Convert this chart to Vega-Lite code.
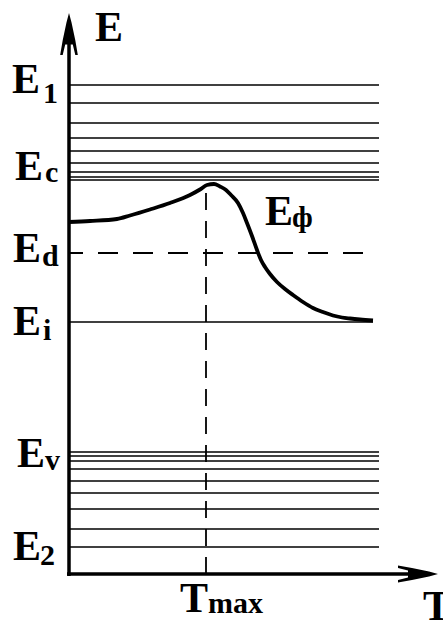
{
  "$schema": "https://vega.github.io/schema/vega-lite/v6.json",
  "width": 443,
  "height": 621,
  "autosize": {"type": "none"},
  "padding": 0,
  "background": "white",
  "config": {"view": {"stroke": null}},
  "datasets": {
    "levels": [
      {"t": 1, "t2": 310, "e": 489},
      {"t": 1, "t2": 310, "e": 471},
      {"t": 1, "t2": 310, "e": 451},
      {"t": 1, "t2": 310, "e": 436},
      {"t": 1, "t2": 310, "e": 423},
      {"t": 1, "t2": 310, "e": 411},
      {"t": 1, "t2": 310, "e": 402},
      {"t": 1, "t2": 310, "e": 397},
      {"t": 1, "t2": 310, "e": 394},
      {"t": 1, "t2": 304, "e": 252},
      {"t": 1, "t2": 310, "e": 122},
      {"t": 1, "t2": 310, "e": 118},
      {"t": 1, "t2": 310, "e": 113},
      {"t": 1, "t2": 310, "e": 105},
      {"t": 1, "t2": 310, "e": 93},
      {"t": 1, "t2": 310, "e": 81},
      {"t": 1, "t2": 310, "e": 65},
      {"t": 1, "t2": 310, "e": 45},
      {"t": 1, "t2": 310, "e": 27}
    ],
    "axes": [
      {"t": 0, "t2": 0, "e": -2, "e2": 544},
      {"t": -2, "t2": 341, "e": 0, "e2": 0}
    ],
    "vdash": [{"t": 137, "t2": 137, "e": 0, "e2": 391}],
    "hdash": [{"t": 1, "t2": 303, "e": 321, "e2": 321}],
    "yarrow": [{"t": 0, "e": 540}],
    "xarrow": [{"t": 349, "e": 0}],
    "curve": [
      {"t": 0, "e": 352},
      {"t": 21, "e": 353},
      {"t": 48, "e": 355},
      {"t": 61, "e": 358.5},
      {"t": 81, "e": 364.5},
      {"t": 101, "e": 371},
      {"t": 121, "e": 379},
      {"t": 131, "e": 384.5},
      {"t": 138, "e": 389},
      {"t": 145, "e": 390},
      {"t": 151, "e": 387.5},
      {"t": 157, "e": 384},
      {"t": 162, "e": 379},
      {"t": 169, "e": 371},
      {"t": 174, "e": 361},
      {"t": 178, "e": 351},
      {"t": 183, "e": 338},
      {"t": 188, "e": 324},
      {"t": 192, "e": 314},
      {"t": 196, "e": 307},
      {"t": 201, "e": 300},
      {"t": 208, "e": 292},
      {"t": 216, "e": 285},
      {"t": 224, "e": 279},
      {"t": 234, "e": 272},
      {"t": 244, "e": 266},
      {"t": 254, "e": 262},
      {"t": 264, "e": 258.5},
      {"t": 273, "e": 256.5},
      {"t": 281, "e": 255.5},
      {"t": 291, "e": 254.5},
      {"t": 304, "e": 253.5}
    ],
    "labels": [
      {"t": 26, "e": 533, "label": "E"},
      {"t": -57, "e": 481, "label": "E"},
      {"t": -54, "e": 394, "label": "E"},
      {"t": -56, "e": 312, "label": "E"},
      {"t": -56, "e": 239, "label": "E"},
      {"t": -52, "e": 107, "label": "E"},
      {"t": -56, "e": 14, "label": "E"},
      {"t": 196, "e": 349, "label": "E"},
      {"t": 111, "e": -38, "label": "T"},
      {"t": 354, "e": -46, "label": "T"}
    ],
    "subs": [
      {"t": -26, "e": 471, "label": "1"},
      {"t": -24, "e": 392, "label": "c"},
      {"t": -27, "e": 308, "label": "d"},
      {"t": -26, "e": 234, "label": "i"},
      {"t": -24, "e": 104, "label": "v"},
      {"t": -29, "e": 9, "label": "2"},
      {"t": 223, "e": 347, "label": "ф"},
      {"t": 139, "e": -39, "label": "max"}
    ]
  },
  "layer": [
    {
      "data": {"name": "levels"},
      "mark": {"type": "rule", "color": "black", "strokeWidth": 1.6},
      "encoding": {
        "x": {"field": "t", "type": "quantitative", "scale": {"domain": [-69, 374], "nice": false, "zero": false}, "axis": null},
        "x2": {"field": "t2"},
        "y": {"field": "e", "type": "quantitative", "scale": {"domain": [-47, 574], "nice": false, "zero": false}, "axis": null}
      }
    },
    {
      "data": {"name": "hdash"},
      "mark": {"type": "rule", "color": "black", "strokeWidth": 1.8, "strokeDash": [20, 15], "strokeDashOffset": 7},
      "encoding": {
        "x": {"field": "t", "type": "quantitative"},
        "x2": {"field": "t2"},
        "y": {"field": "e", "type": "quantitative"},
        "y2": {"field": "e2"}
      }
    },
    {
      "data": {"name": "vdash"},
      "mark": {"type": "rule", "color": "black", "strokeWidth": 1.8, "strokeDash": [17, 11]},
      "encoding": {
        "x": {"field": "t", "type": "quantitative"},
        "x2": {"field": "t2"},
        "y": {"field": "e", "type": "quantitative"},
        "y2": {"field": "e2"}
      }
    },
    {
      "data": {"name": "axes"},
      "mark": {"type": "rule", "color": "black", "strokeWidth": 3.5},
      "encoding": {
        "x": {"field": "t", "type": "quantitative"},
        "x2": {"field": "t2"},
        "y": {"field": "e", "type": "quantitative"},
        "y2": {"field": "e2"}
      }
    },
    {
      "data": {"name": "yarrow"},
      "mark": {"type": "point", "filled": true, "color": "black", "opacity": 1, "size": 1764,
        "shape": "M0,-1 L0.12,-0.55 L0.3,0.3 L0.42,1 L0.3,1 L0.18,0.5 L-0.18,0.5 L-0.3,1 L-0.42,1 L-0.3,0.3 L-0.12,-0.55 Z"},
      "encoding": {
        "x": {"field": "t", "type": "quantitative"},
        "y": {"field": "e", "type": "quantitative"}
      }
    },
    {
      "data": {"name": "xarrow"},
      "mark": {"type": "point", "filled": true, "color": "black", "opacity": 1, "size": 1600,
        "shape": "M1,0 L0.55,-0.12 L-0.3,-0.3 L-1,-0.42 L-1,-0.3 L-0.5,-0.18 L-0.5,0.18 L-1,0.3 L-1,0.42 L-0.3,0.3 L0.55,0.12 Z"},
      "encoding": {
        "x": {"field": "t", "type": "quantitative"},
        "y": {"field": "e", "type": "quantitative"}
      }
    },
    {
      "data": {"name": "curve"},
      "mark": {"type": "line", "color": "black", "strokeWidth": 3.8, "interpolate": "monotone"},
      "encoding": {
        "x": {"field": "t", "type": "quantitative"},
        "y": {"field": "e", "type": "quantitative"}
      }
    },
    {
      "data": {"name": "labels"},
      "mark": {"type": "text", "font": "Liberation Serif", "fontWeight": "bold", "fontSize": 42, "align": "left", "baseline": "alphabetic", "color": "black"},
      "encoding": {
        "x": {"field": "t", "type": "quantitative"},
        "y": {"field": "e", "type": "quantitative"},
        "text": {"field": "label"}
      }
    },
    {
      "data": {"name": "subs"},
      "mark": {"type": "text", "font": "Liberation Serif", "fontWeight": "bold", "fontSize": 30, "align": "left", "baseline": "alphabetic", "color": "black"},
      "encoding": {
        "x": {"field": "t", "type": "quantitative"},
        "y": {"field": "e", "type": "quantitative"},
        "text": {"field": "label"}
      }
    }
  ]
}
